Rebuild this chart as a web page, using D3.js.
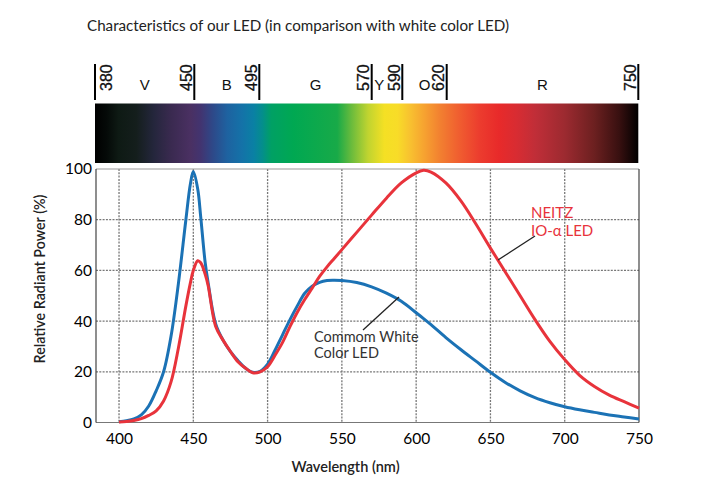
<!DOCTYPE html>
<html>
<head>
<meta charset="utf-8">
<script src="https://cdn.jsdelivr.net/npm/d3@7"></script>
<style>
  html, body { margin: 0; padding: 0; background: #fff; }
  svg { display: block; }
</style>
</head>
<body>
<script>
// ---------- DATA ----------
const title = "Characteristics of our LED (in comparison with white color LED)";
const wavelengths = [400,405,410,415,420,425,430,435,440,445,448,450,453,455,458,460,465,470,475,480,485,490,495,500,505,510,515,520,525,530,535,540,545,550,560,570,580,590,600,605,610,620,630,640,650,660,670,680,690,700,710,720,730,740,750];
const whiteLED = [0.3,0.7,1.4,3,6.5,12.5,20,34,55,80,94,99,92,81,63,55,39,32.5,28,24.5,21.5,19.8,20.2,23,28.5,34.5,40.5,46,51,53.8,55.3,56,56.1,56,55.2,53.5,51,47.8,43.3,41,38.6,33.5,28.8,24.3,19.8,15.8,12.5,9.8,7.8,6.2,5,4,3,2.2,1.4];
const neitzLED = [0.2,0.4,0.8,1.5,2.8,4.6,8.5,16,29.5,46,55,60,63.8,63,58.5,54,38,32.5,28,24,21.5,19.6,20,22,26.5,31.5,37.7,43.5,48.5,53,57.6,61.4,64.8,68.2,75,81.8,88.5,94.5,98.5,99.5,98.8,94.5,87.5,78.5,68.8,59.4,50,40.6,32,24.8,18.6,14.2,10.8,8.2,5.7];
const xTicks = [400,450,500,550,600,650,700,750];
const yTicks = [0,20,40,60,80,100];
const bandEdges = [380,450,495,570,590,620,750];
const bandLetters = [["V",415],["B",472.5],["G",532.5],["Y",575],["O",605],["R",685]];
const spectrumStops = [
  [380,"#000000"],[388,"#050a08"],[396,"#0e1a14"],[408,"#141e1c"],[420,"#24263c"],[432,"#3a2a50"],
  [445,"#4a3062"],[452,"#423470"],[460,"#2e4888"],[470,"#1e62a0"],[480,"#1472a8"],[488,"#0a80a4"],
  [494,"#048e8c"],[500,"#00a064"],[515,"#00a852"],[545,"#18aa48"],[555,"#6cbc3c"],[566,"#c0d430"],
  [577,"#f4e024"],[586,"#f8dc28"],[595,"#f8c030"],[605,"#f6a030"],[615,"#f28030"],[627,"#f06030"],
  [642,"#ec3c2e"],[655,"#e82a2a"],[667,"#d82c32"],[680,"#c02e38"],[700,"#9c2a30"],[720,"#6c2020"],
  [737,"#381010"],[750,"#000000"]
];

// ---------- LAYOUT ----------
const W = 702, H = 500;
const svg = d3.select("body").append("svg").attr("width", W).attr("height", H);
svg.append("rect").attr("width", W).attr("height", H).attr("fill", "#fff");

const FONT = "Lato, 'Open Sans', 'DejaVu Sans', sans-serif";
const SFONT = "'Liberation Sans', Arial, sans-serif";

const x = d3.scaleLinear().domain([384.5, 750]).range([96, 639]);
const y = d3.scaleLinear().domain([0, 100]).range([422.5, 169]);
// spectrum strip scales (the strip's own, slightly non-uniform, wavelength scale)
const xsLin = d3.scaleLinear().domain([380, 750]).range([95, 638.3]);
const xs = d3.scaleLinear().domain(bandEdges).range([95, 194.3, 259.3, 371.7, 402.3, 446.7, 638.3]);

// Title
svg.append("text").attr("x", 87).attr("y", 31)
  .attr("font-family", FONT).attr("font-size", 15.5).attr("fill", "#222")
  .attr("textLength", 422).attr("lengthAdjust", "spacingAndGlyphs")
  .text(title);

// Spectrum bar
const defs = svg.append("defs");
const grad = defs.append("linearGradient").attr("id", "spec")
  .attr("x1", "0%").attr("x2", "100%").attr("y1", "0%").attr("y2", "0%");
grad.selectAll("stop").data(spectrumStops).join("stop")
  .attr("offset", d => ((xsLin(d[0]) - xsLin(380)) / (xsLin(750) - xsLin(380)) * 100) + "%")
  .attr("stop-color", d => d[1]);
svg.append("rect").attr("x", xsLin(380)).attr("y", 103.5)
  .attr("width", xsLin(750) - xsLin(380)).attr("height", 59.5)
  .attr("fill", "url(#spec)");

// band edge marks
svg.selectAll("line.edge").data(bandEdges).join("line").attr("class", "edge")
  .attr("x1", d => xs(d)).attr("x2", d => xs(d))
  .attr("y1", 64).attr("y2", 100)
  .attr("stroke", "#000").attr("stroke-width", 2);
svg.selectAll("text.edge").data(bandEdges).join("text").attr("class", "edge")
  .attr("transform", d => {
    const tx = d === 380 ? xs(d) + 16.5 : xs(d) - 2.5;
    return `translate(${tx},91) rotate(-90)`;
  })
  .attr("font-family", SFONT).attr("font-size", 16).attr("fill", "#111")
  .attr("stroke", "#111").attr("stroke-width", 0.3)
  .text(d => d);
svg.selectAll("text.band").data(bandLetters).join("text").attr("class", "band")
  .attr("x", d => xs(d[1])).attr("y", 89.5)
  .attr("text-anchor", "middle")
  .attr("font-family", SFONT).attr("font-size", 15).attr("fill", "#111")
  .text(d => d[0]);

// Grid
const g = svg.append("g");
g.selectAll("line.vg").data(xTicks.filter(t => t < 750)).join("line").attr("class", "vg")
  .attr("x1", d => x(d)).attr("x2", d => x(d))
  .attr("y1", y(100)).attr("y2", y(0))
  .attr("stroke", "#777").attr("stroke-width", 1.3).attr("stroke-dasharray", "2,1.3");
g.selectAll("line.hg").data(yTicks.filter(t => t > 0 && t < 100)).join("line").attr("class", "hg")
  .attr("x1", x(384.5)).attr("x2", x(750))
  .attr("y1", d => y(d)).attr("y2", d => y(d))
  .attr("stroke", "#777").attr("stroke-width", 1.3).attr("stroke-dasharray", "2,1.3");

// Frame
g.append("line").attr("x1", x(384.5)).attr("x2", x(750)).attr("y1", y(100)).attr("y2", y(100))
  .attr("stroke", "#999").attr("stroke-width", 1);
g.append("line").attr("x1", x(384.5)).attr("x2", x(750)).attr("y1", y(0)).attr("y2", y(0))
  .attr("stroke", "#777").attr("stroke-width", 1);
g.append("line").attr("x1", x(384.5)).attr("x2", x(384.5)).attr("y1", y(100)).attr("y2", y(0))
  .attr("stroke", "#444").attr("stroke-width", 1.2);
g.append("line").attr("x1", x(750)).attr("x2", x(750)).attr("y1", y(100)).attr("y2", y(0))
  .attr("stroke", "#444").attr("stroke-width", 1.2);

// Axes (labels only)
const xAxis = d3.axisBottom(x).tickValues(xTicks).tickSize(0).tickPadding(10);
const xa = svg.append("g").attr("transform", `translate(0,${y(0)})`).call(xAxis);
xa.select(".domain").remove();
xa.selectAll("text").attr("font-family", FONT).attr("font-size", 15.5).attr("fill", "#000");

const yAxis = d3.axisLeft(y).tickValues(yTicks).tickSize(0).tickPadding(4);
const ya = svg.append("g").attr("transform", `translate(${x(384.5)},0)`).call(yAxis);
ya.select(".domain").remove();
ya.selectAll("text").attr("font-family", FONT).attr("font-size", 15.5).attr("fill", "#000");

// Axis titles
svg.append("text").attr("x", 345.5).attr("y", 472).attr("text-anchor", "middle")
  .attr("font-family", FONT).attr("font-size", 14.5).attr("font-weight", 600).attr("fill", "#222")
  .text("Wavelength (nm)");
svg.append("text").attr("transform", "translate(45,279) rotate(-90)").attr("text-anchor", "middle")
  .attr("font-family", FONT).attr("font-size", 14.3).attr("font-weight", 600).attr("fill", "#222")
  .text("Relative Radiant Power (%)");

// Curves
const line = d3.line().x(d => x(d[0])).y(d => y(d[1])).curve(d3.curveCatmullRom.alpha(0.5));
svg.append("path").datum(wavelengths.map((w, i) => [w, whiteLED[i]]))
  .attr("d", line).attr("fill", "none").attr("stroke", "#1b72b5").attr("stroke-width", 3)
  .attr("stroke-linejoin", "round");
svg.append("path").datum(wavelengths.map((w, i) => [w, neitzLED[i]]))
  .attr("d", line).attr("fill", "none").attr("stroke", "#e8333b").attr("stroke-width", 3)
  .attr("stroke-linejoin", "round");

// Callouts
svg.append("line").attr("x1", 399).attr("y1", 297).attr("x2", 363).attr("y2", 330)
  .attr("stroke", "#222").attr("stroke-width", 1.3);
svg.append("text").attr("x", 314).attr("y", 342)
  .attr("font-family", FONT).attr("font-size", 14.5).attr("fill", "#333").text("Commom White");
svg.append("text").attr("x", 314).attr("y", 357.5)
  .attr("font-family", FONT).attr("font-size", 14.5).attr("fill", "#333").text("Color LED");

svg.append("line").attr("x1", 535).attr("y1", 236).attr("x2", 498).attr("y2", 260)
  .attr("stroke", "#222").attr("stroke-width", 1.3);
svg.append("text").attr("x", 531).attr("y", 218)
  .attr("font-family", FONT).attr("font-size", 15).attr("fill", "#e8333b").text("NEITZ");
svg.append("text").attr("x", 531).attr("y", 236)
  .attr("font-family", FONT).attr("font-size", 15).attr("fill", "#e8333b").text("IO-α LED");
</script>
</body>
</html>
